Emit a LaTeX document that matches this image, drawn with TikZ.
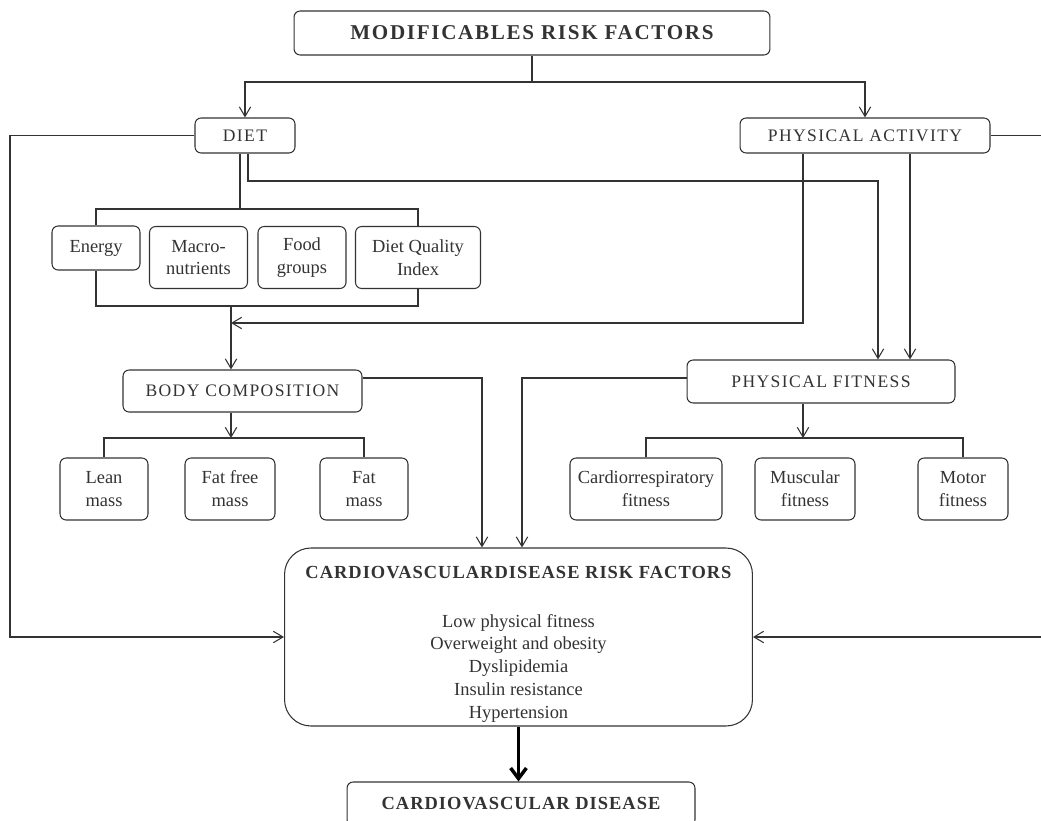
\documentclass[tikz,border=0pt]{standalone}
\usepackage{fontspec}
\setmainfont{Liberation Serif}
\usetikzlibrary{arrows.meta}

\begin{document}
\begin{tikzpicture}
        [x=0.02cm, y=-0.02cm, line width=0.6pt, color=black!80,
         >={Straight Barb[length=5.5pt,width=6.5pt]},
         box/.style={draw, rounded corners=3.5pt, align=center, inner sep=1pt,
                     font=\fontsize{10.5}{13}\selectfont},
         caps/.style={box, minimum height=0.7cm, font=\fontsize{10}{12}\selectfont\addfontfeatures{LetterSpace=8}},
         sub/.style={box, minimum height=1.24cm},
         heading/.style={box, font=\fontsize{10.5}{12}\selectfont\bfseries\addfontfeatures{LetterSpace=5.5}}]

        \useasboundingbox (0,0) rectangle (1041,821);

        \node [heading, minimum width=9.52cm, minimum height=0.88cm,
               font=\fontsize{12}{14}\selectfont\bfseries\addfontfeatures{LetterSpace=8}] (top) at (532,33) {MODIFICABLES RISK FACTORS};

        \node [caps, minimum width=2cm]    (diet) at (245,135.5) {DIET};
        \node [caps, minimum width=5cm]    (pa)   at (865,135.5) {PHYSICAL ACTIVITY};

        \node [box, minimum width=1.76cm, minimum height=0.88cm] (energy) at (96,248) {Energy};
        \node [sub, minimum width=1.96cm] (macro) at (198.5,257.5) {Macro-\\nutrients};
        \node [sub, minimum width=1.76cm] (food)  at (302,257.5) {Food\\groups};
        \node [sub, minimum width=2.5cm]  (dqi)   at (418,257.5) {Diet Quality\\Index};

        \node [caps, minimum width=4.78cm, minimum height=0.84cm] (bc) at (242.5,391) {BODY COMPOSITION};
        \node [sub, minimum width=1.76cm] (lean) at (104,489) {Lean\\mass};
        \node [sub, minimum width=1.8cm]  (ffm)  at (230,489) {Fat free\\mass};
        \node [sub, minimum width=1.76cm] (fat)  at (364,489) {Fat\\mass};

        \node [caps, minimum width=5.36cm, minimum height=0.86cm] (pf) at (821,381.5) {PHYSICAL FITNESS};
        \node [sub, minimum width=3.04cm] (cardio) at (646,489) {Cardiorrespiratory\\fitness};
        \node [sub, minimum width=2cm]    (musc)   at (805,489) {Muscular\\fitness};
        \node [sub, minimum width=1.8cm]  (motor)  at (963,489) {Motor\\fitness};

        \node [box, rounded corners=15pt, minimum width=9.36cm, minimum height=3.56cm] (cvdrf) at (518.5,637)
              {\rule{0pt}{15.5pt}{\bfseries\fontsize{10.5}{12}\selectfont\addfontfeatures{LetterSpace=5.5}CARDIOVASCULARDISEASE RISK FACTORS}\\[14.5pt]
               Low physical fitness\\Overweight and obesity\\Dyslipidemia\\Insulin resistance\\Hypertension};
        \node [heading, minimum width=6.96cm, minimum height=0.88cm] (cvd) at (521,804) {CARDIOVASCULAR DISEASE};

        % corners of the connectors
        \coordinate (fork) at (532,82);
        \coordinate (lc) at (10,637);
        \coordinate (rc) at (1043,637);
        \coordinate (dq1) at (240,209);
        \coordinate (dq2) at (231,306);
        \coordinate (d2) at (248,181);
        \coordinate (d3) at (878,181);
        \coordinate (pa1) at (803,323);
        \coordinate (pa2) at (910,0);
        \coordinate (b1) at (482,378);
        \coordinate (f1) at (522,378);
        \coordinate (bq) at (231,438);
        \coordinate (fq) at (803,438);

        \draw (top.south) -- (fork);
        \draw[->] (fork) -| (diet.north);
        \draw[->] (fork) -| (pa.north);

        \draw[->] (diet.west) -| (lc) -- (cvdrf.west);
        \draw[->] (pa.east) -| (rc) -- (cvdrf.east);

        \draw (diet.south -| dq1) -- (dq1);
        \draw (energy.north) |- (dq1) -| (dqi.north);
        \draw (energy.south) |- (dq2) -| (dqi.south);
        \draw[->] (dq2) -- (bc.north -| dq2);

        \draw[->] (diet.south -| d2) |- (d3) -- (pf.north -| d3);
        \draw[->] (pa.south -| pa1) -- (pa1) -- (dq2 |- pa1);
        \draw[->] (pa.south -| pa2) -- (pf.north -| pa2);

        \draw[->] (bc.south -| bq) -- (bq);
        \draw (lean.north) |- (bq) -| (fat.north);
        \draw[->] (pf.south -| fq) -- (fq);
        \draw (cardio.north) |- (fq) -| (motor.north);

        \draw[->] (bc.east |- b1) -- (b1) -- (cvdrf.north -| b1);
        \draw[->] (pf.west |- f1) -- (f1) -- (cvdrf.north -| f1);

        \draw[-{Straight Barb[length=6pt,width=9pt]}, line width=2pt, black] (cvdrf.south) -- (cvdrf.south |- cvd.north);
\end{tikzpicture}
\end{document}
